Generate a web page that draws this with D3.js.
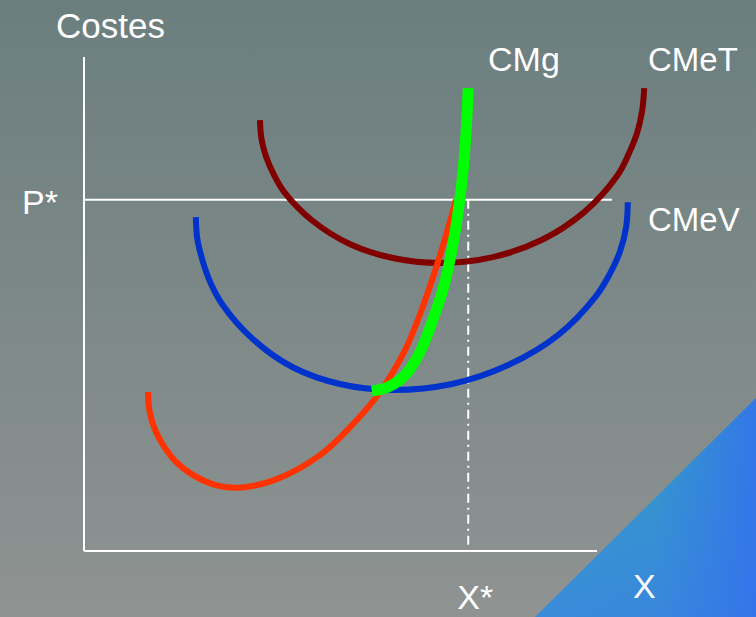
<!DOCTYPE html>
<html>
<head>
<meta charset="utf-8">
<script src="https://cdn.jsdelivr.net/npm/d3@7"></script>
<style>
  html, body { margin: 0; padding: 0; background: #7d8888; }
  svg { display: block; }
  text { font-family: "Liberation Sans", Arial, sans-serif; fill: #ffffff; }
</style>
</head>
<body>
<svg id="chart" width="756" height="617"></svg>
<script>
// Output level (X) and cost points for each curve
const cmgX   = [12.5, 12.7, 13.5, 14.8, 17.6, 21.2, 25.5, 30.0, 37.2, 46.0, 52.8, 57.7, 62.6, 66.5, 69.4, 71.7, 72.5];
const cmgY   = [32.2, 28.8, 25.5, 22.5, 18.4, 15.4, 13.4, 12.8, 14.4, 19.4, 26.1, 32.2, 40.7, 50.8, 59.9, 68.0, 71.1];

// Supply branch of marginal cost (above the minimum of CMeV)
const supplyX = [56.1, 59.3, 62.6, 65.5, 68.0, 70.2, 71.7, 72.9, 73.9, 74.5, 74.9];
const supplyY = [32.4, 33.2, 35.6, 40.3, 46.8, 53.8, 60.9, 68.4, 77.1, 85.2, 93.7];

const cmetX = [34.3, 34.6, 35.5, 37.0, 39.0, 44.6, 51.9, 60.2, 69.4, 79.7, 89.3, 97.5, 103.9, 106.1, 107.8, 108.8, 109.2];
const cmetY = [87.2, 83.4, 79.8, 76.2, 72.7, 66.8, 62.1, 59.3, 58.3, 59.5, 63.0, 68.6, 75.9, 80.2, 84.6, 89.1, 93.7];

const cmevX = [21.8, 22.1, 23.2, 24.7, 26.9, 32.9, 40.7, 49.9, 59.6, 71.7, 82.8, 92.4, 99.8, 102.5, 104.5, 105.7, 106.0];
const cmevY = [67.6, 63.1, 58.5, 54.2, 50.0, 42.9, 37.2, 33.8, 32.6, 33.8, 37.7, 43.7, 51.6, 56.1, 60.7, 65.7, 70.6];

// Equilibrium price and quantity
const pStar = 71.1;
const xStar = 74.9;

// Axis extents
const xAxisMax = 100;
const yAxisMax = 100;
const priceLineEnd = 102.9;

const labels = {
  yTitle: "Costes", xTitle: "X", price: "P*", qty: "X*",
  cmg: "CMg", cmet: "CMeT", cmev: "CMeV"
};

const W = 756, H = 617;
const svg = d3.select("#chart");

const x = d3.scaleLinear().domain([0, 100]).range([84, 597]);
const y = d3.scaleLinear().domain([0, 100]).range([551, 57]);

// ---- background ----
const defs = svg.append("defs");
const bg = defs.append("linearGradient").attr("id", "bg")
  .attr("x1", 0).attr("y1", 0).attr("x2", 0).attr("y2", 1);
bg.append("stop").attr("offset", 0).attr("stop-color", "#6b7e7e");
bg.append("stop").attr("offset", 1).attr("stop-color", "#8f9392");

const triV = defs.append("linearGradient").attr("id", "triV")
  .attr("x1", 0).attr("y1", 0).attr("x2", 0).attr("y2", 1);
triV.append("stop").attr("offset", 0).attr("stop-color", "#33a3bf");
triV.append("stop").attr("offset", 1).attr("stop-color", "#3a8bd9");

const triH = defs.append("linearGradient").attr("id", "triH")
  .attr("x1", 0).attr("y1", 0).attr("x2", 1).attr("y2", 0);
triH.append("stop").attr("offset", 0).attr("stop-color", "#3370ee").attr("stop-opacity", 0);
triH.append("stop").attr("offset", 0.55).attr("stop-color", "#3370ee").attr("stop-opacity", 0.15);
triH.append("stop").attr("offset", 1).attr("stop-color", "#3370ee").attr("stop-opacity", 0.85);

svg.append("rect").attr("width", W).attr("height", H).attr("fill", "url(#bg)");

const tri = `M535,${H} L${W},398 L${W},${H} Z`;
svg.append("path").attr("d", tri).attr("fill", "url(#triV)");
svg.append("path").attr("d", tri).attr("fill", "url(#triH)");

// ---- axes ----
const axisG = svg.append("g").attr("stroke", "#ffffff").attr("stroke-width", 2);
axisG.append("line")
  .attr("x1", x(0)).attr("x2", x(0)).attr("y1", y(0)).attr("y2", y(yAxisMax));
axisG.append("line")
  .attr("x1", x(0)).attr("x2", x(xAxisMax)).attr("y1", y(0)).attr("y2", y(0));

// price line P*
axisG.append("line")
  .attr("x1", x(0)).attr("x2", x(priceLineEnd)).attr("y1", y(pStar)).attr("y2", y(pStar));

// dash-dot guide at X*
axisG.append("line")
  .attr("x1", x(xStar)).attr("x2", x(xStar)).attr("y1", y(pStar)).attr("y2", y(1.2))
  .attr("stroke-dasharray", "9,5,2,5");

// ---- cost curves ----
const line = d3.line()
  .x(d => x(d[0])).y(d => y(d[1]))
  .curve(d3.curveCatmullRom.alpha(0.5));

const zipPts = (xs, ys) => xs.map((v, i) => [v, ys[i]]);

svg.append("path").datum(zipPts(cmetX, cmetY))
  .attr("d", line).attr("fill", "none")
  .attr("stroke", "#800000").attr("stroke-width", 6);

svg.append("path").datum(zipPts(cmevX, cmevY))
  .attr("d", line).attr("fill", "none")
  .attr("stroke", "#0033cc").attr("stroke-width", 6);

svg.append("path").datum(zipPts(cmgX, cmgY))
  .attr("d", line).attr("fill", "none")
  .attr("stroke", "#ff3300").attr("stroke-width", 6);

svg.append("path").datum(zipPts(supplyX, supplyY))
  .attr("d", line).attr("fill", "none")
  .attr("stroke", "#00ff00").attr("stroke-width", 11);

// ---- labels ----
const txt = (s, px, py, size) =>
  svg.append("text").attr("x", px).attr("y", py)
    .attr("font-size", size).text(s);

txt(labels.yTitle, 56, 38, 35);
txt(labels.cmg, 488, 71, 34);
txt(labels.cmet, 648, 71, 33);
txt(labels.cmev, 648, 231, 33);
txt(labels.price, 22, y(pStar) + 14, 34);
txt(labels.qty, x(xStar) - 11, 609, 34);
txt(labels.xTitle, 633, 598, 34);
</script>
</body>
</html>
